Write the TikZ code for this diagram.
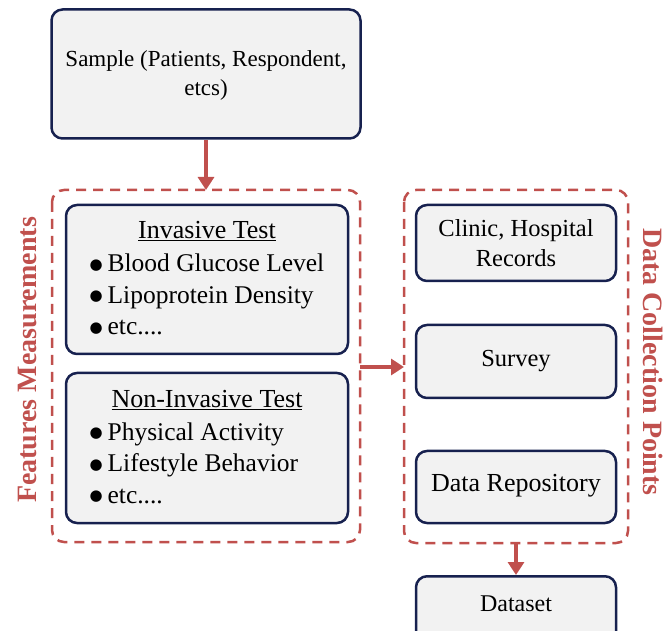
\documentclass[tikz,border=0pt]{standalone}
\usepackage{fontspec}
\setmainfont{Liberation Serif}
\newfontfamily\dvfont{DejaVu Sans}
\usetikzlibrary{arrows.meta}
\definecolor{navy}{HTML}{17214F}
\definecolor{boxfill}{HTML}{F2F2F2}
\definecolor{redc}{HTML}{C0504D}
\newcommand{\bul}{\raisebox{2.2pt}{\dvfont\fontsize{15}{15}\selectfont ●}\hspace{5pt}}
\tikzset{
  box/.style={draw=navy, line width=2.5pt, fill=boxfill, rounded corners=11pt},
  group/.style={draw=redc, line width=2.5pt, dash pattern=on 10pt off 7pt, rounded corners=12pt},
  flow/.style={draw=redc, line width=3.2pt, -{Triangle[length=13pt,width=16pt]}},
  txt/.style={font=\fontsize{24}{30}\selectfont, align=center, text=black},
  itm/.style={font=\fontsize{25.5}{31.5}\selectfont, align=left, anchor=west, text=black},
  side/.style={font=\bfseries\fontsize{28}{32}\selectfont, text=redc}
}
\begin{document}
\begin{tikzpicture}[x=1pt,y=-1pt]
\useasboundingbox (0,0) rectangle (665,631);
% containers
\draw[group] (52,190) rectangle (360,542);
\draw[group] (404,190) rectangle (628,543);
\coordinate (lgE) at (360,367);
\coordinate (rgW) at (404,367);
\coordinate (lgN) at (206,190);
\coordinate (rgS) at (516,543);
% sample
\node[box, minimum width=309pt, minimum height=129pt] (sample) at (206,74) {};
\node[txt, font=\fontsize{23}{29}\selectfont] (sampletxt) at (206,75) {Sample (Patients, Respondent,\\etcs)};
% invasive
\node[box, minimum width=282pt, minimum height=149pt] (inv) at (207,279.5) {};
\node[txt, font=\fontsize{26}{28}\selectfont] (invt) at (207,231) {\underline{Invasive Test}};
\node[itm] (invl) at (86,294.5) {\bul Blood Glucose Level\\\bul Lipoprotein Density\\\bul etc....};
% non invasive
\node[box, minimum width=282pt, minimum height=150pt] (non) at (207,448) {};
\node[txt, font=\fontsize{26}{28}\selectfont] (nont) at (207,400) {\underline{Non-Invasive Test}};
\node[itm] (nonl) at (86,463) {\bul Physical Activity\\\bul Lifestyle Behavior\\\bul etc....};
% right boxes
\node[box, minimum width=200pt, minimum height=76pt] (clinic) at (516,243) {};
\node[txt, font=\fontsize{24.5}{30}\selectfont] (clinict) at (516,243) {Clinic, Hospital\\Records};
\node[box, minimum width=200pt, minimum height=73pt] (survey) at (516,361.5) {};
\node[txt, font=\fontsize{24.5}{28}\selectfont] (surveyt) at (516,361) {Survey};
\node[box, minimum width=200pt, minimum height=72pt] (repo) at (516,487) {};
\node[txt, font=\fontsize{26}{28}\selectfont] (repot) at (516,486) {Data Repository};
\node[box, minimum width=200pt, minimum height=80pt, anchor=north] (dataset) at (516,575) {};
\node[txt, font=\fontsize{24}{26}\selectfont] (datasett) at (516,604) {Dataset};
% side labels
\node[side, rotate=90] (fm) at (28,360) {Features Measurements};
\node[side, rotate=-90] (dcp) at (653,362) {Data Collection Points};
% arrows
\draw[flow] (sample.south) -- (lgN);
\draw[flow] (lgE) -- (rgW);
\draw[flow] (rgS) -- (rgS |- dataset.north);
\end{tikzpicture}
\end{document}
